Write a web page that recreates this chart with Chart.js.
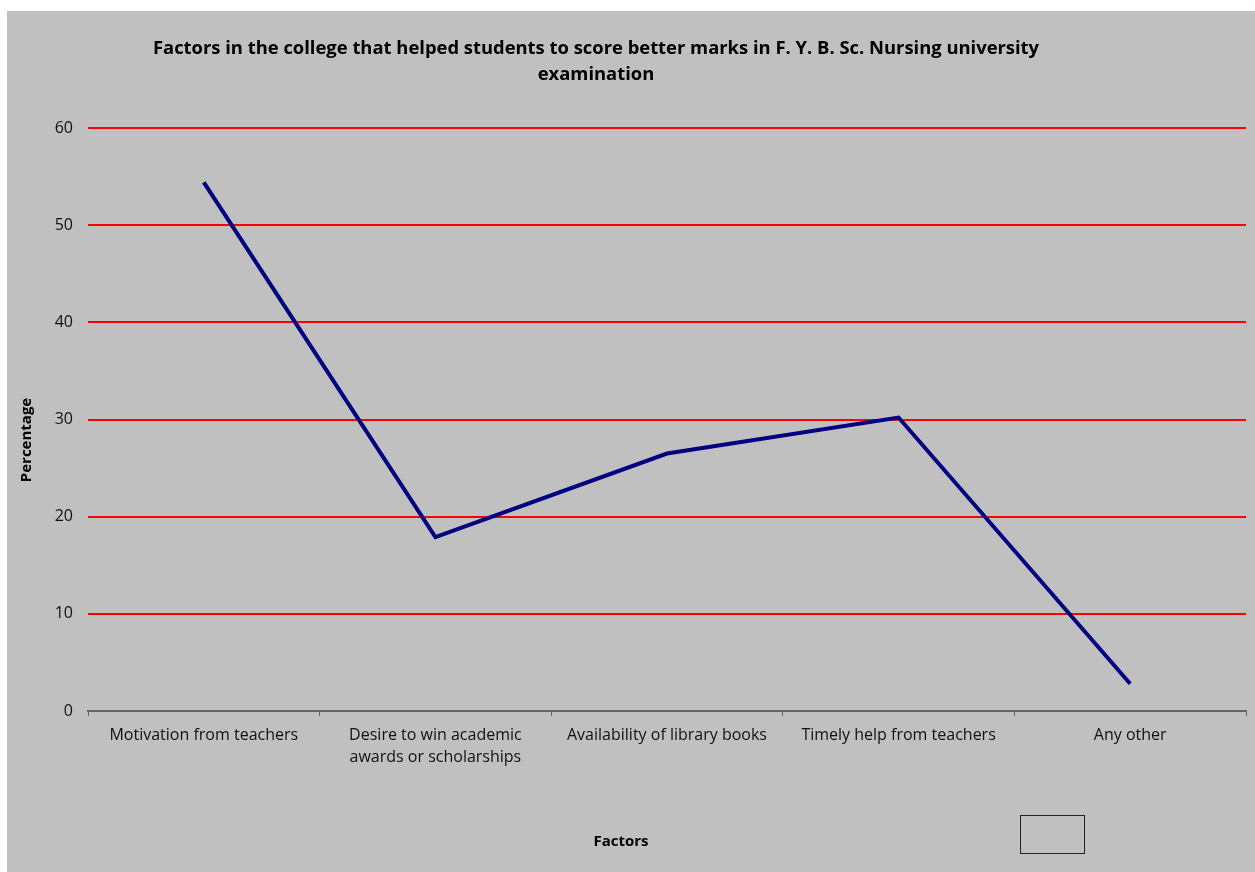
<!DOCTYPE html>
<html>
<head>
<meta charset="utf-8">
<script src="https://cdn.jsdelivr.net/npm/chart.js@4"></script>
<style>
  html, body { margin: 0; padding: 0; background: #ffffff; }
  #wrap { position: absolute; left: 7px; top: 11px; width: 1248px; height: 861px; background: #c0c0c0; }
</style>
</head>
<body>
<div id="wrap"><canvas id="chart" width="1248" height="861"></canvas></div>
<script>
// chart data
var factors = [
    "Motivation from teachers",
    ["Desire to win academic", "awards or scholarships"],
    "Availability of library books",
    "Timely help from teachers",
    "Any other"
];
var percentages = [54.4, 17.9, 26.5, 30.2, 2.8];
var yTicks = [0, 10, 20, 30, 40, 50, 60];

var titleLines = [
    "Factors in the college that helped students to score better marks in F. Y. B. Sc. Nursing university",
    "examination"
];
var xTitle = "Factors";
var yTitle = "Percentage";

var FONT = "'Open Sans', sans-serif";

// titles and the empty legend box, drawn on top
var extras = {
    id: 'extras',
    afterDraw: function (chart) {
        var c = chart.ctx;
        c.save();
        c.fillStyle = '#000000';
        c.textAlign = 'center';
        c.textBaseline = 'middle';
        c.font = "bold 18.4px " + FONT;
        c.fillText(titleLines[0], 589, 38);
        c.fillText(titleLines[1], 589, 64);

        c.font = "bold 15px " + FONT;
        c.fillText(xTitle, 614, 831);

        c.translate(20, 429);
        c.rotate(-Math.PI / 2);
        c.fillText(yTitle, 0, 0);
        c.restore();

        c.save();
        c.strokeStyle = '#222222';
        c.lineWidth = 1;
        c.strokeRect(1013.5, 804.5, 64, 38);
        c.restore();
    }
};

var ctx = document.getElementById('chart').getContext('2d');
var chart = new Chart(ctx, {
    type: 'line',
    data: {
        labels: factors,
        datasets: [{
            data: percentages,
            borderColor: '#000080',
            borderWidth: 4,
            pointRadius: 0,
            tension: 0,
            fill: false
        }]
    },
    options: {
        responsive: false,
        animation: false,
        layout: { padding: { left: 41, top: 117, right: 9, bottom: 0 } },
        plugins: {
            legend: { display: false },
            title: { display: false },
            tooltip: { enabled: false }
        },
        scales: {
            x: {
                offset: true,
                grid: {
                    offset: true,
                    drawOnChartArea: false,
                    drawTicks: true,
                    tickLength: 5,
                    color: '#666666',
                    lineWidth: 1
                },
                border: { display: true, color: '#666666', width: 2 },
                ticks: {
                    color: '#111111',
                    font: { family: FONT, size: 16, lineHeight: 1.4 },
                    padding: 8,
                    maxRotation: 0,
                    autoSkip: false
                },
                afterFit: function (scale) { scale.height = 161; }
            },
            y: {
                min: 0,
                max: 60,
                afterBuildTicks: function (scale) {
                    scale.ticks = yTicks.map(function (v) { return { value: v }; });
                },
                grid: {
                    color: function (c) { return c.tick && c.tick.value === 0 ? 'rgba(0,0,0,0)' : '#ff0000'; },
                    lineWidth: 2,
                    drawTicks: false
                },
                border: { display: false },
                ticks: {
                    color: '#111111',
                    font: { family: FONT, size: 16 },
                    padding: 15
                },
                afterFit: function (scale) { scale.width = 40; }
            }
        }
    },
    plugins: [extras]
});
</script>
</body>
</html>
